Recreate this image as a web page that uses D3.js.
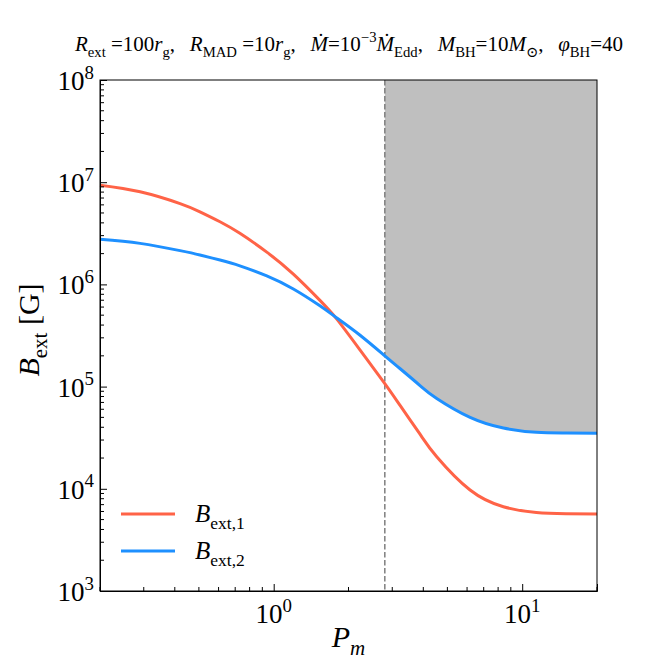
<!DOCTYPE html>
<html>
<head>
    <title>B_ext vs P_m</title>
    <script src="https://d3js.org/d3.v7.min.js"></script>
    <style>
        body { margin: 0; background: #fff; }
        text { font-family: "Liberation Serif", "DejaVu Serif", serif; fill: #000; }
    </style>
</head>
<body>
    <div id="chart"></div>

    <script>
        // values
        const pm = [0.2, 0.29, 0.42, 0.505, 0.608, 0.731, 0.938, 1.2, 1.535, 1.795, 2.22, 2.8, 3.22, 3.88, 4.53, 6.17, 8.4, 11.4, 15.1, 20];
        const bExt1 = [9.33e6, 8.05e6, 6.17e6, 5.13e6, 4.10e6, 3.16e6, 2.07e6, 1.26e6, 6.98e5, 4.57e5, 2.30e5, 1.067e5, 6.58e4, 3.42e4, 2.06e4, 9.73e3, 6.68e3, 5.85e3, 5.71e3, 5.68e3];
        const bExt2 = [2.76e6, 2.52e6, 2.14e6, 1.94e6, 1.73e6, 1.52e6, 1.21e6, 9.02e5, 6.17e5, 4.70e5, 3.20e5, 2.0e5, 1.503e5, 1.023e5, 7.64e4, 4.99e4, 3.93e4, 3.57e4, 3.52e4, 3.49e4];
        const pmLimit = 2.8;
        const xTicks = [1, 10];
        const yTicks = [1e3, 1e4, 1e5, 1e6, 1e7, 1e8];

        const margin = {top: 80, right: 67, bottom: 73, left: 100};
        const W = 664, H = 664;
        const width = W - margin.left - margin.right;
        const height = H - margin.top - margin.bottom;

        const svg = d3.select("#chart").append("svg")
            .attr("width", W)
            .attr("height", H);

        const g = svg.append("g")
            .attr("transform", "translate(" + margin.left + "," + margin.top + ")");

        const x = d3.scaleLog().domain([0.2, 20]).range([0, width]);
        const y = d3.scaleLog().domain([1e3, 1e8]).range([height, 0]);

        // rich text helper: parts = [text, italic?, "sub"|"sup"|null]
        function rich(sel, parts, size) {
            let cur = 0;
            parts.forEach(p => {
                const pos = p[2];
                const target = pos === "sub" ? 0.28 * size : pos === "sup" ? -0.42 * size : 0;
                sel.append("tspan")
                    .attr("dy", target - cur)
                    .attr("font-size", pos ? size * 0.7 : size)
                    .attr("font-style", p[1] ? "italic" : "normal")
                    .text(p[0]);
                cur = target;
            });
        }

        const data = pm.map((p, i) => ({p: p, b1: bExt1[i], b2: bExt2[i]}));

        const line1 = d3.line().x(d => x(d.p)).y(d => y(d.b1)).curve(d3.curveNatural);
        const line2 = d3.line().x(d => x(d.p)).y(d => y(d.b2)).curve(d3.curveNatural);

        // excluded region above B_ext,2 to the right of the limit
        g.append("clipPath").attr("id", "clipRight")
            .append("rect")
            .attr("x", x(pmLimit)).attr("y", 0)
            .attr("width", width - x(pmLimit)).attr("height", height);

        g.append("path")
            .datum(data)
            .attr("clip-path", "url(#clipRight)")
            .attr("fill", "#bfbfbf")
            .attr("d", d3.area()
                .x(d => x(d.p))
                .y0(y(1e8))
                .y1(d => y(d.b2))
                .curve(d3.curveNatural));

        g.append("line")
            .attr("x1", x(pmLimit)).attr("x2", x(pmLimit))
            .attr("y1", 0).attr("y2", height)
            .attr("stroke", "#7f7f7f")
            .attr("stroke-width", 1.5)
            .attr("stroke-dasharray", "5.5,2.5");

        g.append("path").datum(data)
            .attr("fill", "none").attr("stroke", "#ff6347").attr("stroke-width", 3)
            .attr("d", line1);
        g.append("path").datum(data)
            .attr("fill", "none").attr("stroke", "#1e90ff").attr("stroke-width", 3)
            .attr("d", line2);

        // minor ticks (inside)
        const xMinor = [];
        [0.1, 1, 10].forEach(dec => d3.range(1, 10).forEach(k => {
            const v = dec * k;
            if (v >= 0.2 && v <= 20 && xTicks.indexOf(v) < 0) xMinor.push(v);
        }));
        const yMinor = [];
        [1e3, 1e4, 1e5, 1e6, 1e7].forEach(dec => d3.range(2, 10).forEach(k => yMinor.push(dec * k)));

        const xAxis = g.append("g")
            .attr("transform", "translate(0," + height + ")")
            .call(d3.axisBottom(x).tickValues(xTicks).tickSize(-7).tickFormat(""));
        xAxis.append("g").selectAll("line").data(xMinor).enter().append("line")
            .attr("x1", d => x(d)).attr("x2", d => x(d))
            .attr("y1", 0).attr("y2", -4)
            .attr("stroke", "#000");

        const yAxis = g.append("g")
            .call(d3.axisLeft(y).tickValues(yTicks).tickSize(-7).tickFormat(""));
        yAxis.append("g").selectAll("line").data(yMinor).enter().append("line")
            .attr("y1", d => y(d)).attr("y2", d => y(d))
            .attr("x1", 0).attr("x2", 4)
            .attr("stroke", "#000");

        g.selectAll(".domain").attr("stroke", "#000");

        // frame
        g.append("rect")
            .attr("width", width).attr("height", height)
            .attr("fill", "none").attr("stroke", "#000").attr("stroke-width", 1);

        // tick labels
        xTicks.forEach(v => {
            const t = g.append("text")
                .attr("x", x(v)).attr("y", height + 32)
                .attr("text-anchor", "middle");
            rich(t, [["10", false, null], [String(Math.round(Math.log10(v))), false, "sup"]], 27);
        });
        yTicks.forEach(v => {
            const t = g.append("text")
                .attr("x", -6).attr("y", y(v) + 10)
                .attr("text-anchor", "end");
            rich(t, [["10", false, null], [String(Math.round(Math.log10(v))), false, "sup"]], 27);
        });

        // axis titles
        const xl = svg.append("text")
            .attr("x", margin.left + width / 2).attr("y", 647)
            .attr("text-anchor", "middle");
        rich(xl, [["P", true, null], ["m", true, "sub"]], 30);

        const yl = svg.append("text")
            .attr("transform", "translate(39,330) rotate(-90)")
            .attr("text-anchor", "middle");
        rich(yl, [["B", true, null], ["ext", false, "sub"], [" [G]", false, null]], 30);

        // title
        const title = svg.append("text")
            .attr("x", 349).attr("y", 51)
            .attr("text-anchor", "middle");
        const sp = ",\u2002\u2009";
        rich(title, [
            ["R", true, null], ["ext", false, "sub"], [" =100", false, null], ["r", true, null], ["g", false, "sub"],
            [sp, false, null],
            ["R", true, null], ["MAD", false, "sub"], [" =10", false, null], ["r", true, null], ["g", false, "sub"],
            [sp, false, null],
            ["M\u0307", true, null], ["=10", false, null], ["\u22123", false, "sup"], ["M\u0307", true, null], ["Edd", false, "sub"],
            [sp, false, null],
            ["M", true, null], ["BH", false, "sub"], ["=10", false, null], ["M", true, null], ["\u2299", false, "sub"],
            [sp, false, null],
            ["\u03c6", true, null], ["BH", false, "sub"], ["=40", false, null]
        ], 21);

        // legend
        const legend = g.append("g");
        const items = [["1", "#ff6347"], ["2", "#1e90ff"]];
        items.forEach((it, i) => {
            const ly = 434 + i * 37;
            legend.append("line")
                .attr("x1", 21).attr("x2", 75)
                .attr("y1", ly).attr("y2", ly)
                .attr("stroke", it[1]).attr("stroke-width", 3);
            const t = legend.append("text").attr("x", 95).attr("y", ly + 8);
            rich(t, [["B", true, null], ["ext," + it[0], false, "sub"]], 25);
        });
    </script>
</body>
</html>
